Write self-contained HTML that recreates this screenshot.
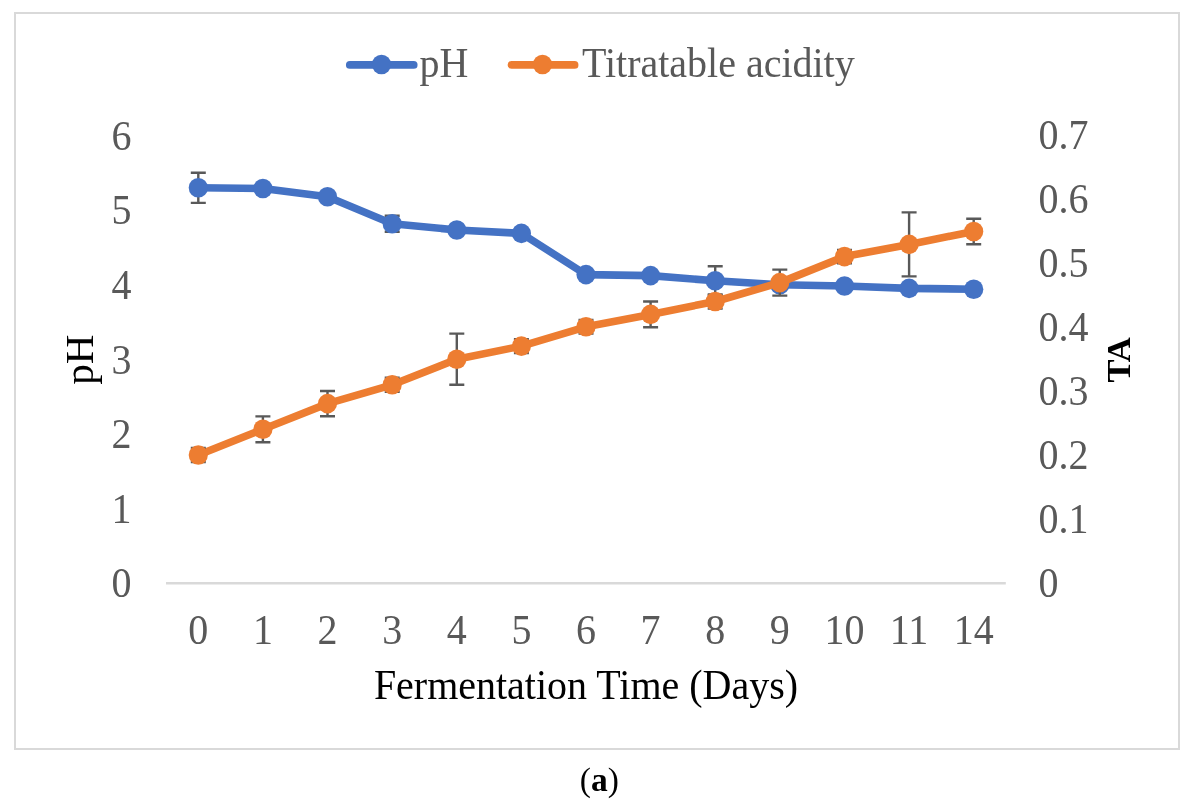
<!DOCTYPE html>
<html><head><meta charset="utf-8"><style>
html,body{margin:0;padding:0;background:#fff;width:1193px;height:806px;overflow:hidden}
svg{display:block;will-change:transform}
.t{font-family:"Liberation Serif",serif;font-size:40px;fill:#595959}
.title{font-family:"Liberation Serif",serif;font-size:40px;fill:#000}
.cap{font-family:"Liberation Serif",serif;font-size:33.5px;fill:#000}
</style></head><body>
<svg width="1193" height="806" viewBox="0 0 1193 806">
<rect x="15" y="13" width="1164" height="736" fill="#fff" stroke="#d9d9d9" stroke-width="2"/>
<line x1="166" y1="583.2" x2="1005.8" y2="583.2" stroke="#d9d9d9" stroke-width="2.4"/>
<text transform="translate(131.50,597.40) scale(1,1.04)" text-anchor="end" class="t">0</text>
<text transform="translate(131.50,522.80) scale(1,1.04)" text-anchor="end" class="t">1</text>
<text transform="translate(131.50,448.20) scale(1,1.04)" text-anchor="end" class="t">2</text>
<text transform="translate(131.50,373.60) scale(1,1.04)" text-anchor="end" class="t">3</text>
<text transform="translate(131.50,299.00) scale(1,1.04)" text-anchor="end" class="t">4</text>
<text transform="translate(131.50,224.40) scale(1,1.04)" text-anchor="end" class="t">5</text>
<text transform="translate(131.50,149.80) scale(1,1.04)" text-anchor="end" class="t">6</text>
<text transform="translate(1038.50,597.40) scale(1,1.04)" class="t">0</text>
<text transform="translate(1038.50,533.39) scale(1,1.04)" class="t">0.1</text>
<text transform="translate(1038.50,469.38) scale(1,1.04)" class="t">0.2</text>
<text transform="translate(1038.50,405.37) scale(1,1.04)" class="t">0.3</text>
<text transform="translate(1038.50,341.36) scale(1,1.04)" class="t">0.4</text>
<text transform="translate(1038.50,277.35) scale(1,1.04)" class="t">0.5</text>
<text transform="translate(1038.50,213.34) scale(1,1.04)" class="t">0.6</text>
<text transform="translate(1038.50,149.33) scale(1,1.04)" class="t">0.7</text>
<text transform="translate(198.31,643.50) scale(1,1.04)" text-anchor="middle" class="t">0</text>
<text transform="translate(262.92,643.50) scale(1,1.04)" text-anchor="middle" class="t">1</text>
<text transform="translate(327.54,643.50) scale(1,1.04)" text-anchor="middle" class="t">2</text>
<text transform="translate(392.15,643.50) scale(1,1.04)" text-anchor="middle" class="t">3</text>
<text transform="translate(456.77,643.50) scale(1,1.04)" text-anchor="middle" class="t">4</text>
<text transform="translate(521.38,643.50) scale(1,1.04)" text-anchor="middle" class="t">5</text>
<text transform="translate(586.00,643.50) scale(1,1.04)" text-anchor="middle" class="t">6</text>
<text transform="translate(650.62,643.50) scale(1,1.04)" text-anchor="middle" class="t">7</text>
<text transform="translate(715.23,643.50) scale(1,1.04)" text-anchor="middle" class="t">8</text>
<text transform="translate(779.85,643.50) scale(1,1.04)" text-anchor="middle" class="t">9</text>
<text transform="translate(844.46,643.50) scale(1,1.04)" text-anchor="middle" class="t">10</text>
<text transform="translate(909.08,643.50) scale(1,1.04)" text-anchor="middle" class="t">11</text>
<text transform="translate(973.69,643.50) scale(1,1.04)" text-anchor="middle" class="t">14</text>
<text transform="translate(586.00,698.65) scale(1,1.035)" text-anchor="middle" class="title">Fermentation Time (Days)</text>
<text transform="translate(92.8,359.7) rotate(-90)" text-anchor="middle" class="title" style="font-size:41px">pH</text>
<text transform="translate(1130.4,359.9) rotate(-90)" text-anchor="middle" class="title" style="font-size:34.5px;font-weight:bold">TA</text>
<line x1="349.8" y1="64.9" x2="413.7" y2="64.9" stroke="#4472C4" stroke-width="7.7" stroke-linecap="round"/>
<ellipse cx="381.5" cy="64.5" rx="9.6" ry="9.8" fill="#4472C4"/>
<text transform="translate(419.50,76.70) scale(1,1.035)" class="t">pH</text>
<line x1="511.5" y1="64.9" x2="574.6" y2="64.9" stroke="#ED7D31" stroke-width="7.7" stroke-linecap="round"/>
<ellipse cx="542.5" cy="64.5" rx="9.6" ry="9.8" fill="#ED7D31"/>
<text transform="translate(581.90,76.70) scale(1,1.035)" class="t">Titratable acidity</text>
<polyline points="198.3,187.8 262.9,188.5 327.5,196.8 392.2,223.7 456.8,230.0 521.4,233.4 586.0,274.6 650.6,275.6 715.2,280.8 779.8,284.8 844.5,286.0 909.1,288.4 973.7,289.2" fill="none" stroke="#4472C4" stroke-width="7.6" stroke-linejoin="round" stroke-linecap="round"/>
<g stroke="#595959" stroke-width="2.4" fill="none"><path d="M198.3 172.7V202.9M190.8 172.7H205.8M190.8 202.9H205.8"/>
<path d="M262.9 185.5V191.5M255.4 185.5H270.4M255.4 191.5H270.4"/>
<path d="M327.5 193.8V199.8M320.0 193.8H335.0M320.0 199.8H335.0"/>
<path d="M392.2 215.7V231.7M384.7 215.7H399.7M384.7 231.7H399.7"/>
<path d="M456.8 227.0V233.0M449.3 227.0H464.3M449.3 233.0H464.3"/>
<path d="M521.4 230.4V236.4M513.9 230.4H528.9M513.9 236.4H528.9"/>
<path d="M586.0 271.6V277.6M578.5 271.6H593.5M578.5 277.6H593.5"/>
<path d="M650.6 272.6V278.6M643.1 272.6H658.1M643.1 278.6H658.1"/>
<path d="M715.2 266.2V295.4M707.7 266.2H722.7M707.7 295.4H722.7"/>
<path d="M779.8 281.8V287.8M772.3 281.8H787.3M772.3 287.8H787.3"/>
<path d="M844.5 283.0V289.0M837.0 283.0H852.0M837.0 289.0H852.0"/>
<path d="M909.1 285.4V291.4M901.6 285.4H916.6M901.6 291.4H916.6"/>
<path d="M973.7 286.2V292.2M966.2 286.2H981.2M966.2 292.2H981.2"/></g>
<g fill="#4472C4"><ellipse cx="198.3" cy="187.8" rx="9.6" ry="9.8"/>
<ellipse cx="262.9" cy="188.5" rx="9.6" ry="9.8"/>
<ellipse cx="327.5" cy="196.8" rx="9.6" ry="9.8"/>
<ellipse cx="392.2" cy="223.7" rx="9.6" ry="9.8"/>
<ellipse cx="456.8" cy="230.0" rx="9.6" ry="9.8"/>
<ellipse cx="521.4" cy="233.4" rx="9.6" ry="9.8"/>
<ellipse cx="586.0" cy="274.6" rx="9.6" ry="9.8"/>
<ellipse cx="650.6" cy="275.6" rx="9.6" ry="9.8"/>
<ellipse cx="715.2" cy="280.8" rx="9.6" ry="9.8"/>
<ellipse cx="779.8" cy="284.8" rx="9.6" ry="9.8"/>
<ellipse cx="844.5" cy="286.0" rx="9.6" ry="9.8"/>
<ellipse cx="909.1" cy="288.4" rx="9.6" ry="9.8"/>
<ellipse cx="973.7" cy="289.2" rx="9.6" ry="9.8"/></g>
<polyline points="198.3,455.0 262.9,429.3 327.5,403.6 392.2,384.8 456.8,359.2 521.4,346.1 586.0,326.8 650.6,314.4 715.2,301.5 779.8,282.6 844.5,256.6 909.1,244.4 973.7,231.5" fill="none" stroke="#ED7D31" stroke-width="7.6" stroke-linejoin="round" stroke-linecap="round"/>
<g stroke="#595959" stroke-width="2.4" fill="none"><path d="M198.3 448.0V462.0M190.8 448.0H205.8M190.8 462.0H205.8"/>
<path d="M262.9 416.4V442.2M255.4 416.4H270.4M255.4 442.2H270.4"/>
<path d="M327.5 391.0V416.2M320.0 391.0H335.0M320.0 416.2H335.0"/>
<path d="M392.2 377.8V391.8M384.7 377.8H399.7M384.7 391.8H399.7"/>
<path d="M456.8 333.6V384.8M449.3 333.6H464.3M449.3 384.8H464.3"/>
<path d="M521.4 339.1V353.1M513.9 339.1H528.9M513.9 353.1H528.9"/>
<path d="M586.0 320.0V333.6M578.5 320.0H593.5M578.5 333.6H593.5"/>
<path d="M650.6 301.5V327.3M643.1 301.5H658.1M643.1 327.3H658.1"/>
<path d="M715.2 294.4V308.6M707.7 294.4H722.7M707.7 308.6H722.7"/>
<path d="M779.8 269.6V295.6M772.3 269.6H787.3M772.3 295.6H787.3"/>
<path d="M844.5 250.0V263.2M837.0 250.0H852.0M837.0 263.2H852.0"/>
<path d="M909.1 212.4V276.4M901.6 212.4H916.6M901.6 276.4H916.6"/>
<path d="M973.7 218.8V244.2M966.2 218.8H981.2M966.2 244.2H981.2"/></g>
<g fill="#ED7D31"><ellipse cx="198.3" cy="455.0" rx="9.6" ry="9.8"/>
<ellipse cx="262.9" cy="429.3" rx="9.6" ry="9.8"/>
<ellipse cx="327.5" cy="403.6" rx="9.6" ry="9.8"/>
<ellipse cx="392.2" cy="384.8" rx="9.6" ry="9.8"/>
<ellipse cx="456.8" cy="359.2" rx="9.6" ry="9.8"/>
<ellipse cx="521.4" cy="346.1" rx="9.6" ry="9.8"/>
<ellipse cx="586.0" cy="326.8" rx="9.6" ry="9.8"/>
<ellipse cx="650.6" cy="314.4" rx="9.6" ry="9.8"/>
<ellipse cx="715.2" cy="301.5" rx="9.6" ry="9.8"/>
<ellipse cx="779.8" cy="282.6" rx="9.6" ry="9.8"/>
<ellipse cx="844.5" cy="256.6" rx="9.6" ry="9.8"/>
<ellipse cx="909.1" cy="244.4" rx="9.6" ry="9.8"/>
<ellipse cx="973.7" cy="231.5" rx="9.6" ry="9.8"/></g>
<text x="599.3" y="790.9" text-anchor="middle" class="cap">(<tspan font-weight="bold">a</tspan>)</text>
</svg>
</body></html>
